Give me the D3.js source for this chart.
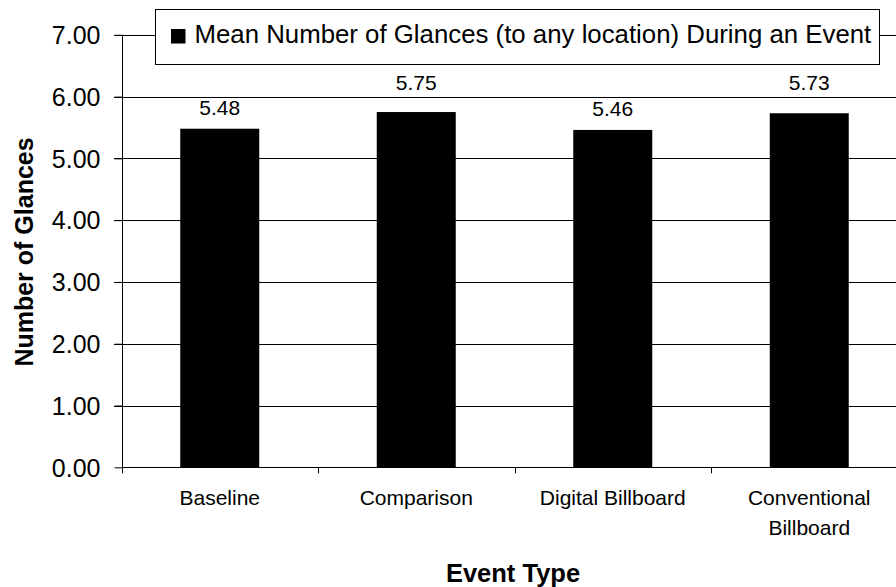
<!DOCTYPE html>
<html><head><meta charset="utf-8">
<script src="https://cdn.jsdelivr.net/npm/d3@7"></script>
<style>
html,body{margin:0;padding:0;background:#fff;}
svg text{font-family:"Liberation Sans",Arial,sans-serif;fill:#000;}
</style></head>
<body><svg id="c" width="896" height="587"></svg>
<script>
const categories = ["Baseline", "Comparison", "Digital Billboard", "Conventional Billboard"];
const categoryLines = [["Baseline"], ["Comparison"], ["Digital Billboard"], ["Conventional", "Billboard"]];
const values = [5.48, 5.75, 5.46, 5.73];
const yTicks = [0, 1, 2, 3, 4, 5, 6, 7];
const seriesName = "Mean Number of Glances (to any location) During an Event";
const xTitle = "Event Type";
const yTitle = "Number of Glances";

const svg = d3.select("#c");
const y = d3.scaleLinear().domain([0, 7]).range([467.3, 34.8]);
const x = d3.scaleBand().domain(categories).range([121.5, 907.5]).paddingInner(0.598).paddingOuter(0.299);
const step = x.step();

// gridlines
svg.append("g").selectAll("line").data(yTicks.filter(d => d > 0)).join("line")
  .attr("x1", 114).attr("x2", 896)
  .attr("y1", d => Math.round(y(d)) + 0.5).attr("y2", d => Math.round(y(d)) + 0.5)
  .attr("stroke", "#000").attr("stroke-width", 1);

// y axis
const yAxis = d3.axisLeft(y).tickValues(yTicks).tickFormat(d3.format(".2f")).tickSize(8).tickPadding(14);
const gy = svg.append("g").attr("transform", "translate(122.5,0)").call(yAxis);
gy.select(".domain").attr("d", `M0,${y(7)}V${y(0)}`).attr("stroke", "#000");
gy.selectAll(".tick line").attr("stroke", "#000");
gy.selectAll(".tick text").style("font-size", "25px").attr("dy", "0.35em");

// bars
svg.append("g").selectAll("rect").data(values).join("rect")
  .attr("x", (d, i) => x(categories[i]))
  .attr("y", d => y(d))
  .attr("width", x.bandwidth())
  .attr("height", d => y(0) - y(d))
  .attr("fill", "#000");

// x axis line
svg.append("line").attr("x1", 122).attr("x2", 896)
  .attr("y1", Math.round(y(0)) + 0.5).attr("y2", Math.round(y(0)) + 0.5)
  .attr("stroke", "#000");
// x ticks at category boundaries
const bounds = d3.range(categories.length + 1).map(i => x.range()[0] + i * step);
svg.append("g").selectAll("line").data(bounds.filter(b => b < 896)).join("line")
  .attr("x1", d => Math.round(d) + 0.5).attr("x2", d => Math.round(d) + 0.5)
  .attr("y1", y(0)).attr("y2", y(0) + 6)
  .attr("stroke", "#000");

// category labels
const cl = svg.append("g").selectAll("text").data(categories).join("text")
  .attr("text-anchor", "middle")
  .attr("x", d => x(d) + x.bandwidth() / 2)
  .attr("y", 505)
  .style("font-size", "21px");
cl.each(function (d, i) {
  d3.select(this).selectAll("tspan").data(categoryLines[i]).join("tspan")
    .attr("x", x(d) + x.bandwidth() / 2)
    .attr("dy", (t, j) => j === 0 ? 0 : 30)
    .text(t => t);
});

// value labels, moved above a gridline when they would cross it
svg.append("g").selectAll("text").data(values).join("text")
  .attr("text-anchor", "middle")
  .attr("x", (d, i) => x(categories[i]) + x.bandwidth() / 2)
  .attr("y", d => {
    let b = y(d) - 14;
    yTicks.forEach(t => { const gyy = y(t); if (gyy > b - 15 && gyy < b + 3) b = gyy - 7; });
    return b;
  })
  .style("font-size", "21px")
  .text(d => d.toFixed(2));

// legend
const lg = svg.append("g");
lg.append("rect").attr("x", 155.5).attr("y", 9.5).attr("width", 724).attr("height", 55)
  .attr("fill", "#fff").attr("stroke", "#000");
lg.append("rect").attr("x", 171).attr("y", 29).attr("width", 14.5).attr("height", 14.5).attr("fill", "#000");
lg.append("text").attr("x", 194.5).attr("y", 43.3).style("font-size", "25.8px").text(seriesName);

// axis titles
svg.append("text").attr("text-anchor", "middle").attr("x", 513).attr("y", 581.5)
  .style("font-size", "25.5px").style("font-weight", "bold").text(xTitle);
svg.append("text").attr("text-anchor", "middle")
  .attr("transform", `translate(33,252) rotate(-90)`)
  .style("font-size", "25px").style("font-weight", "bold").text(yTitle);
</script></body></html>
